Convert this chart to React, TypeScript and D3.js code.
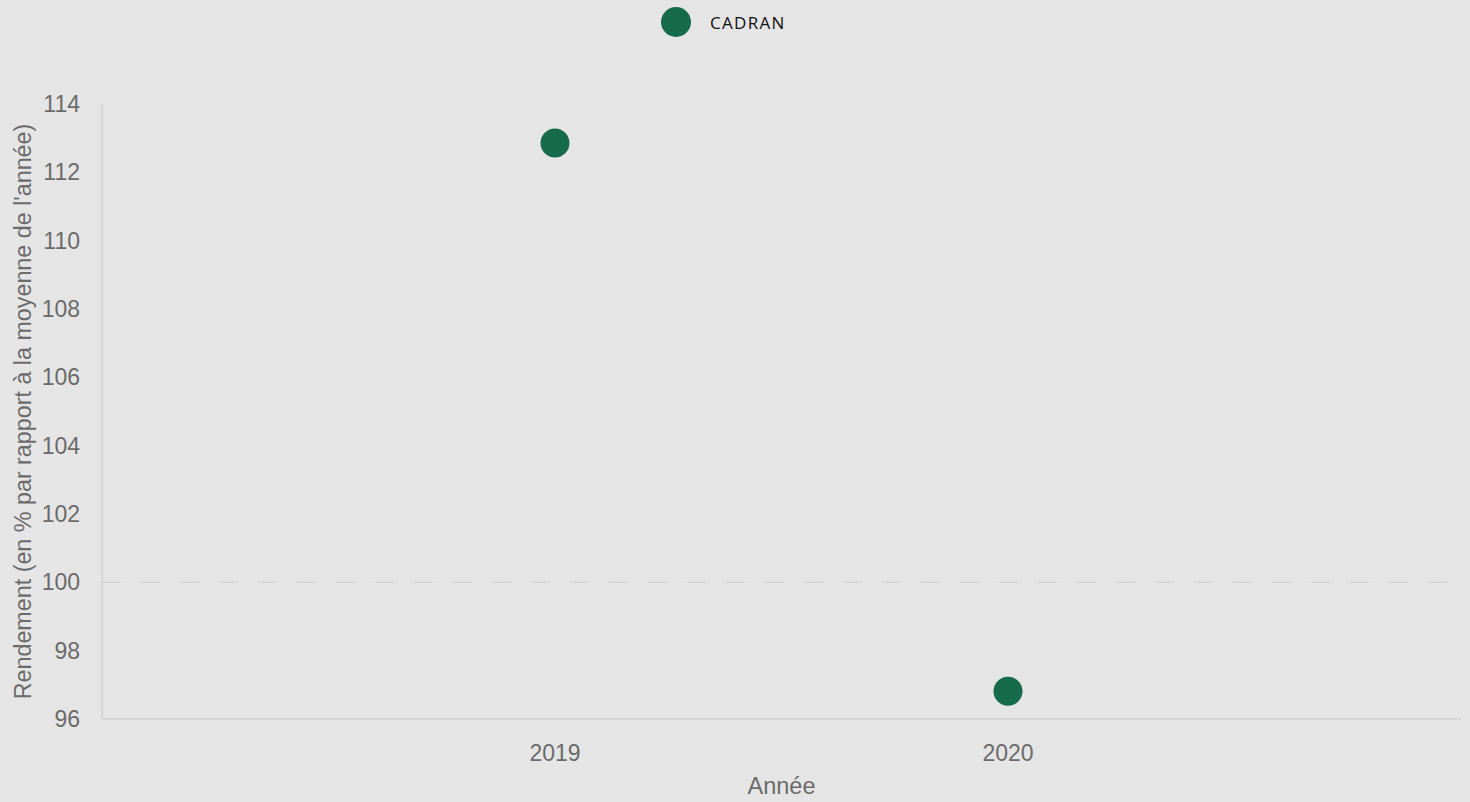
import * as d3 from 'd3';
import { useEffect, useRef } from 'react';

const years = ['2019', '2020'];
const cadranValues = [112.86, 96.81];
const yTicks = [96, 98, 100, 102, 104, 106, 108, 110, 112, 114];
const seriesName = 'CADRAN';

export default function App() {
    const ref = useRef<SVGSVGElement | null>(null);

    useEffect(() => {
        document.body.style.margin = '0';
        if (!ref.current) return;
        const svg = d3.select(ref.current);
        svg.selectAll('*').remove();

        const width = 1470;
        const height = 802;
        const margin = { top: 104, right: 9, bottom: 83, left: 102 };
        const green = '#166b4b';
        const font = '"Liberation Sans", Arial, sans-serif';

        svg.append('rect').attr('width', width).attr('height', height).attr('fill', '#e5e5e5');

        const x = d3
            .scalePoint<string>()
            .domain(years)
            .range([margin.left, width - margin.right])
            .padding(1);

        const y = d3
            .scaleLinear()
            .domain([96, 114])
            .range([height - margin.bottom, margin.top]);

        // axis lines
        svg.append('line')
            .attr('x1', margin.left).attr('x2', margin.left)
            .attr('y1', margin.top).attr('y2', y(96))
            .attr('stroke', '#d0d0d0').attr('stroke-width', 1.5);
        svg.append('line')
            .attr('x1', margin.left).attr('x2', width - margin.right)
            .attr('y1', y(96)).attr('y2', y(96))
            .attr('stroke', '#d0d0d0').attr('stroke-width', 1.5);

        // reference line at 100
        svg.append('line')
            .attr('x1', margin.left).attr('x2', width - margin.right)
            .attr('y1', y(100)).attr('y2', y(100))
            .attr('stroke', '#d3d3d3').attr('stroke-width', 1.5)
            .attr('stroke-dasharray', '19,20');

        // y ticks
        svg.append('g')
            .selectAll('text')
            .data(yTicks)
            .join('text')
            .attr('x', 80)
            .attr('y', (d) => y(d))
            .attr('dy', '0.35em')
            .attr('text-anchor', 'end')
            .attr('font-family', font)
            .attr('font-size', 23)
            .attr('fill', '#6b6b6b')
            .text((d) => d);

        // x ticks
        svg.append('g')
            .selectAll('text')
            .data(years)
            .join('text')
            .attr('x', (d) => x(d)!)
            .attr('y', 761)
            .attr('text-anchor', 'middle')
            .attr('font-family', font)
            .attr('font-size', 23)
            .attr('fill', '#6b6b6b')
            .text((d) => d);

        // axis titles
        svg.append('text')
            .attr('x', (margin.left + width - margin.right) / 2)
            .attr('y', 794)
            .attr('text-anchor', 'middle')
            .attr('font-family', font)
            .attr('font-size', 23.5)
            .attr('fill', '#6b6b6b')
            .text('Année');

        svg.append('text')
            .attr('transform', `translate(31,${(margin.top + y(96)) / 2}) rotate(-90)`)
            .attr('text-anchor', 'middle')
            .attr('font-family', font)
            .attr('font-size', 23.3)
            .attr('fill', '#6b6b6b')
            .text("Rendement (en % par rapport à la moyenne de l'année)");

        // points
        svg.append('g')
            .selectAll('circle')
            .data(years.map((yr, i) => ({ yr, v: cadranValues[i] })))
            .join('circle')
            .attr('cx', (d) => x(d.yr)!)
            .attr('cy', (d) => y(d.v))
            .attr('r', 14.5)
            .attr('fill', green);

        // legend
        svg.append('circle').attr('cx', 676).attr('cy', 22).attr('r', 15).attr('fill', green);
        svg.append('text')
            .attr('x', 710)
            .attr('y', 23)
            .attr('dy', '0.35em')
            .attr('font-family', '"Open Sans", "Noto Sans", sans-serif')
            .attr('font-size', 17)
            .attr('letter-spacing', 1.3)
            .attr('fill', '#111')
            .text(seriesName);
    }, []);

    return <svg ref={ref} width={1470} height={802} style={{ display: 'block' }} />;
}
